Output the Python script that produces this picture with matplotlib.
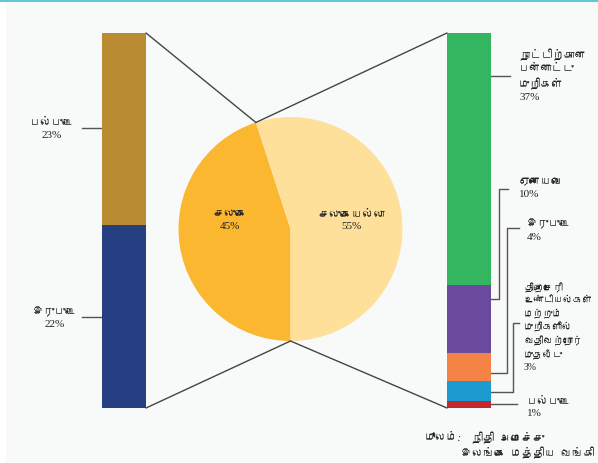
import numpy as np
import matplotlib
matplotlib.use('Agg')
import matplotlib.pyplot as plt
from matplotlib import font_manager
from matplotlib.ft2font import FT2Font
from matplotlib.patches import ConnectionPatch, Rectangle

# data
pie_labels = ['சலுகை', 'சலுகையல்லா']
pie_values = [45, 55]
pie_colors = ['#fcb731', '#fee09b']

left_labels = ['இருபுடை', 'பல்புடை']
left_values = [22, 23]
left_colors = ['#253f82', '#b98b33']

right_labels = ['பல்புடை',
                'திறைசேரி\nஉண்டியல்கள்\nமற்றும்\nமுறிகளில்\nவதிவற்றோர்\nமுதலீடு',
                'இருபுடை',
                'ஏனையவை',
                'நாட்டிற்கான\nபன்னாட்டு\nமுறிகள்']
right_values = [1, 3, 4, 10, 37]
right_colors = ['#c1272d', '#1b9bd0', '#f58345', '#6a4a9c', '#34b560']

source_label = 'மூலம்:'
source_lines = ['நிதி  அமைச்சு', 'இலங்கை  மத்திய  வங்கி']


# look for a font that has Tamil glyphs
def find_tamil_font():
    for f in font_manager.fontManager.ttflist:
        try:
            if 0x0B9A in FT2Font(f.fname).get_charmap():
                return f.name
        except Exception:
            pass
    return None


tamil = find_tamil_font()
fam = ['Liberation Serif'] + ([tamil] if tamil else []) + ['DejaVu Sans']
plt.rcParams['font.family'] = fam

W, H = 598, 463
fig = plt.figure(figsize=(W / 100, H / 100), dpi=100)
fig.patch.set_facecolor('white')

# overlay axes in pixel units for text and leader lines
ax0 = fig.add_axes([0, 0, 1, 1])
ax0.set_xlim(0, W)
ax0.set_ylim(H, 0)
ax0.axis('off')
ax0.add_patch(Rectangle((6, 2), W - 6, H - 2, color='#f8f9f9', lw=0))
ax0.add_patch(Rectangle((0, 0), W, 2, color='#5fc9d1', lw=0))

# bar positions (pixels)
bar_top, bar_bot = 33, 408
bar_w = 44


def fig_box(x0, y0, w, h):
    return [x0 / W, 1 - (y0 + h) / H, w / W, h / H]


axl = fig.add_axes(fig_box(102, bar_top, bar_w, bar_bot - bar_top))
axr = fig.add_axes(fig_box(447, bar_top, bar_w, bar_bot - bar_top))
axp = fig.add_axes(fig_box(178.5, 117, 224, 224))

for ax, vals, cols in [(axl, left_values, left_colors), (axr, right_values, right_colors)]:
    bottom = 0
    for v, c in zip(vals, cols):
        ax.bar(0, v, width=1, bottom=bottom, color=c, linewidth=0)
        bottom += v
    ax.set_xlim(-0.5, 0.5)
    ax.set_ylim(0, sum(vals))
    ax.axis('off')

# pie: first wedge ends at the bottom
start = 270 - 360 * pie_values[0] / sum(pie_values)
wedges, _ = axp.pie(pie_values, colors=pie_colors, startangle=start,
                    counterclock=True, radius=1, wedgeprops=dict(linewidth=0))
axp.set_xlim(-1, 1)
axp.set_ylim(-1, 1)
axp.set_aspect('equal')
axp.patch.set_alpha(0)

txt_kw = dict(color='#222222', linespacing=1.45)

# pie labels
for w, lab, v in zip(wedges, pie_labels, pie_values):
    ang = np.deg2rad((w.theta1 + w.theta2) / 2)
    axp.text(0.55 * np.cos(ang), 0.075, f'{lab}\n{v}%', ha='center', va='center',
             fontsize=8, color='#222222', linespacing=1.3)

# connector lines between bars and pie
top_pt = (np.cos(np.deg2rad(start)), np.sin(np.deg2rad(start)))
bot_pt = (0, -1)
for ax, xe, tot in [(axl, 0.5, sum(left_values)), (axr, -0.5, sum(right_values))]:
    for yb, pp in [(tot, top_pt), (0, bot_pt)]:
        con = ConnectionPatch(xyA=(xe, yb), coordsA=ax.transData,
                              xyB=pp, coordsB=axp.transData,
                              color='#444444', lw=1)
        fig.add_artist(con)

lc = '#555555'

# left labels: (text x, text y, leader y)
left_layout = [(55, 318, 317), (52, 129, 128)]
for lab, v, (tx, ty, ly) in zip(left_labels, left_values, left_layout):
    ax0.text(tx, ty, f'{lab}\n{v}%', ha='center', va='center', fontsize=8, **txt_kw)
    ax0.plot([82, 102], [ly, ly], color=lc, lw=1)

# right labels: text x, text top y, font size, leader path
right_layout = [
    (527, 397, 8, [(491, 404), (517, 404)]),
    (524, 283, 7, [(491, 392), (513, 392), (513, 323), (519, 323)]),
    (527, 219, 8, [(491, 373), (507, 373), (507, 228), (519, 228)]),
    (519, 178, 8, [(491, 299), (499, 299), (499, 189), (508, 189)]),
    (519, 49, 8, [(491, 76), (510, 76)]),
]
for lab, v, (tx, ty, fs, path) in zip(right_labels, right_values, right_layout):
    ax0.text(tx, ty, f'{lab}\n{v}%', ha='left', va='top', fontsize=fs, **txt_kw)
    xs, ys = zip(*path)
    ax0.plot(xs, ys, color=lc, lw=1)

# source
ax0.text(425, 438, source_label, ha='left', va='center', style='italic', fontsize=8, **txt_kw)
ax0.text(472, 438, source_lines[0], ha='left', va='center', fontsize=8, **txt_kw)
ax0.text(594, 453, source_lines[1], ha='right', va='center', fontsize=8, **txt_kw)

fig.savefig('out.png', dpi=100, facecolor=fig.get_facecolor())
